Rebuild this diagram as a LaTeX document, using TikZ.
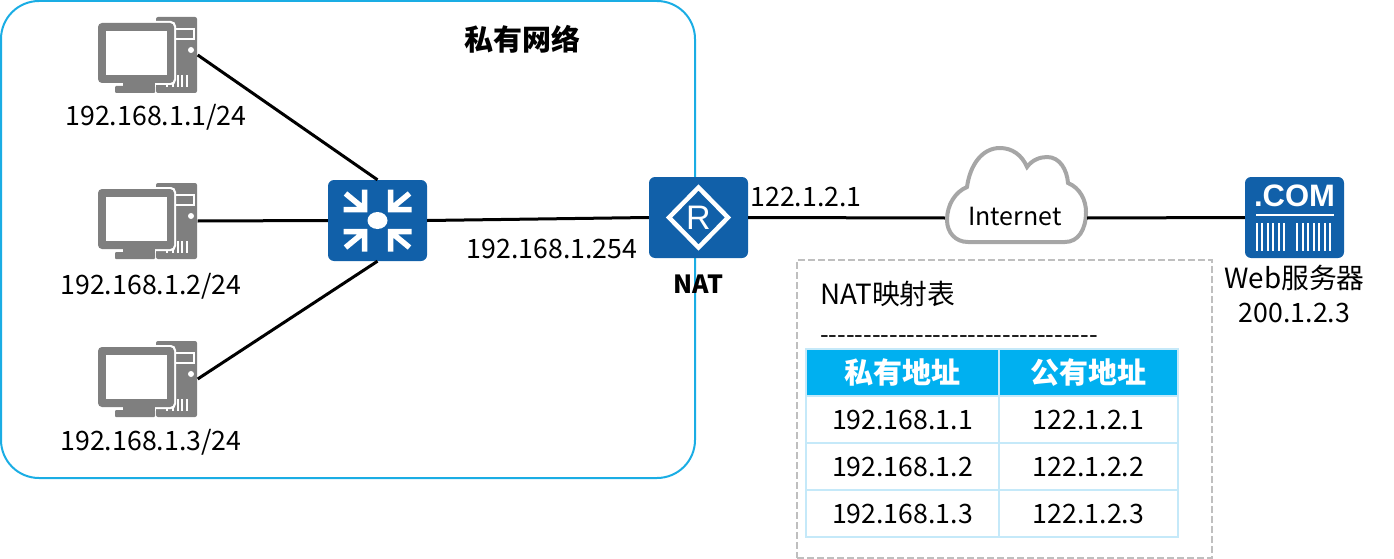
\documentclass[tikz,border=0pt]{standalone}
\usepackage{fontspec}
\setmainfont{Noto Sans CJK SC}
\newfontfamily\dashfont{Noto Sans CJK SC}
\newfontfamily\iconfont{Liberation Sans}
\usepackage{xcolor}
\usetikzlibrary{positioning}
\definecolor{iconblue}{HTML}{1160A9}
\definecolor{icongray}{HTML}{7F7F7F}
\definecolor{netblue}{HTML}{1AADE4}
\definecolor{headblue}{HTML}{00B0F0}
\definecolor{cellline}{HTML}{C5E9F9}
\definecolor{cloudgray}{HTML}{A6A6A6}
\definecolor{boxgray}{HTML}{BFBFBF}
\newcommand{\px}[1]{\fontsize{#1}{#1}\selectfont}
\tikzset{
  pcicon/.pic={
    \fill[icongray,rounded corners=2pt] (8,-38) rectangle (49,38);
    \fill[white] (26,-27) rectangle (47,-15);
    \fill[icongray] (28,-25) rectangle (45,-17);
    \fill[white] (43,-5) circle (3);
    \foreach \xv in {19,25,30,34,39} \draw[white,line width=1.5pt] (\xv,20) -- (\xv,32);
    \fill[white,rounded corners=5pt] (-52,-34) rectangle (28,30);
    \fill[icongray,rounded corners=4pt] (-50,-32) rectangle (26,28);
    \fill[white] (-42,-24) rectangle (19,20);
    \fill[icongray] (-25,28) rectangle (7,32);
    \fill[icongray,rounded corners=1pt] (-33,31) rectangle (7,38);
  },
  switchicon/.pic={
    \fill[iconblue,rounded corners=6pt] (-49.5,-40.5) rectangle (49.5,40.5);
    \fill[white] (0,0) ellipse (10 and 8.5);
    \foreach \sx/\sy in {1/1,-1/1,1/-1,-1/-1}
      \draw[white,line width=5.5pt,xscale=\sx,yscale=\sy] (-34,-11) -- (-13,-11) -- (-13,-31) (-32,-27) -- (-15,-13);
  },
  routericon/.pic={
    \fill[iconblue,rounded corners=6pt] (-49.5,-40.5) rectangle (49.5,40.5);
    \draw[white,line width=4.5pt] (-29.5,0) -- (0,-30) -- (29.5,0) -- (0,30) -- cycle;
    \node[text=white,inner sep=0pt] (routerR) at (0,0) {\iconfont\px{34}R};
  },
  cloudicon/.pic={
    \draw[cloudgray,line width=4pt,fill=white] (-48,24)
      .. controls (-61,24) and (-69,14) .. (-69,2)
      .. controls (-69,-13) and (-61,-26) .. (-49,-31)
      .. controls (-46,-53) and (-34,-70) .. (-16,-70)
      .. controls (-4,-70) and (6,-63) .. (11,-51)
      .. controls (16,-58) and (24,-61) .. (31,-61)
      .. controls (44,-61) and (51,-48) .. (52,-35)
      .. controls (64,-30) and (70,-18) .. (70,-6)
      .. controls (70,12) and (62,24) .. (49,24) -- cycle;
  },
  servericon/.pic={
    \fill[iconblue,rounded corners=6pt] (-49.5,-40.5) rectangle (49.5,40.5);
    \node[text=white,inner sep=0pt] (serverCOM) at (0,-22) {\iconfont\bfseries\px{31}.COM};
    \fill[white] (-39,-4) rectangle (39,-2);
    \foreach \xv in {-38,-32.5,-27,-21.5,-16,-10.5,2.5,8,13.5,19,24.5,30,35.5}
      \fill[white] (\xv-1,5) rectangle (\xv+1,33);
  },
}
\begin{document}
\begin{tikzpicture}[x=1pt,y=-1pt,on grid,node distance=100pt]
    \tikzstyle{anchorbox}=[minimum width=99pt,minimum height=81pt,inner sep=0pt]
    \tikzstyle{pcbox}=[minimum width=99pt,minimum height=76pt,inner sep=0pt]
    \tikzstyle{lbl}=[inner sep=0pt,font=\px{26.7}]
    \tikzstyle{cell}=[draw=cellline,line width=2.5pt,minimum height=47pt,inner sep=0pt,font=\px{26.7}]
    \tikzstyle{leftcell}=[cell,minimum width=193pt]
    \tikzstyle{rightcell}=[cell,minimum width=179pt]
    \tikzstyle{headcell}=[fill=headblue,text=white,font=\bfseries\px{29}]
    \tikzstyle{link}=[draw=black,line width=3pt]

    \useasboundingbox (0,0) rectangle (1394,559);

    \node[draw=netblue,line width=2pt,rounded corners=38pt,minimum width=694pt,minimum height=477pt,inner sep=0pt] (PrivateNet) at (348,239.5) {};
    \node[lbl,font=\bfseries\px{29}] (PrivateLabel) at (522,39) {私有网络};

    \node[pcbox] (PC1) at (148,55) {};
    \node[pcbox,below of=PC1,node distance=166pt] (PC2) {};
    \node[pcbox,below of=PC2,node distance=158pt] (PC3) {};
    \node[anchorbox] (Switch) at (377.5,220.5) {};
    \node[anchorbox] (Router) at (698.5,217.5) {};
    \node[minimum width=142pt,inner sep=0pt] (Cloud) at (1016,218) {};
    \node[anchorbox] (Server) at (1294.5,217.5) {};

    \pic at (PC1) {pcicon};
    \pic at (PC2) {pcicon};
    \pic at (PC3) {pcicon};
    \pic at (Switch) {switchicon};
    \pic at (Router) {routericon};
    \pic at (Cloud) {cloudicon};
    \pic at (Server) {servericon};
    \node[inner sep=0pt,font=\px{25}] (CloudLabel) at (1015,216) {Internet};

    \path[link]
    (PC1.east) edge (Switch.north)
    (PC2.east) edge (Switch.west)
    (PC3.east) edge (Switch.south)
    (Switch.east) edge (Router.west)
    (Router.east) edge (Cloud.west)
    (Cloud.east) edge (Server.west)
    ;

    \node[lbl,below of=PC1,node distance=62pt,xshift=8pt] (PC1Label) {192.168.1.1/24};
    \node[lbl,below of=PC2,node distance=65pt,xshift=3pt] (PC2Label) {192.168.1.2/24};
    \node[lbl,below of=PC3,node distance=63pt,xshift=3pt] (PC3Label) {192.168.1.3/24};
    \node[lbl] (GatewayLabel) at (552,248.5) {192.168.1.254};
    \node[lbl] (WanLabel) at (806,196.5) {122.1.2.1};
    \node[lbl,font=\bfseries\px{25},below of=Router,node distance=67pt] (RouterLabel) {NAT};
    \node[lbl,font=\px{27.8},below of=Server,node distance=60.5pt] (ServerLabel) {Web服务器};
    \node[lbl,below of=ServerLabel,node distance=35pt] (ServerAddr) {200.1.2.3};

    \node[draw=boxgray,dash pattern=on 7pt off 3pt,line width=2pt,minimum width=415pt,minimum height=298pt,inner sep=0pt] (TableBox) at (1004.5,409) {};
    \node[lbl,font=\px{27.8},anchor=west] (TableTitle) at (820,294) {NAT映射表};
    \node[lbl,font=\px{25},anchor=west] (TableRule) at (820,340) {\dashfont --------------------------------};

    \node[leftcell,headcell] (H1) at (902.5,372.5) {私有地址};
    \node[rightcell,headcell,right of=H1,node distance=186pt] (H2) {公有地址};
    \node[leftcell,below of=H1,node distance=47pt] (A1) {192.168.1.1};
    \node[leftcell,below of=A1,node distance=47pt] (A2) {192.168.1.2};
    \node[leftcell,below of=A2,node distance=47pt] (A3) {192.168.1.3};
    \node[rightcell,below of=H2,node distance=47pt] (B1) {122.1.2.1};
    \node[rightcell,below of=B1,node distance=47pt] (B2) {122.1.2.2};
    \node[rightcell,below of=B2,node distance=47pt] (B3) {122.1.2.3};
\end{tikzpicture}
\end{document}
